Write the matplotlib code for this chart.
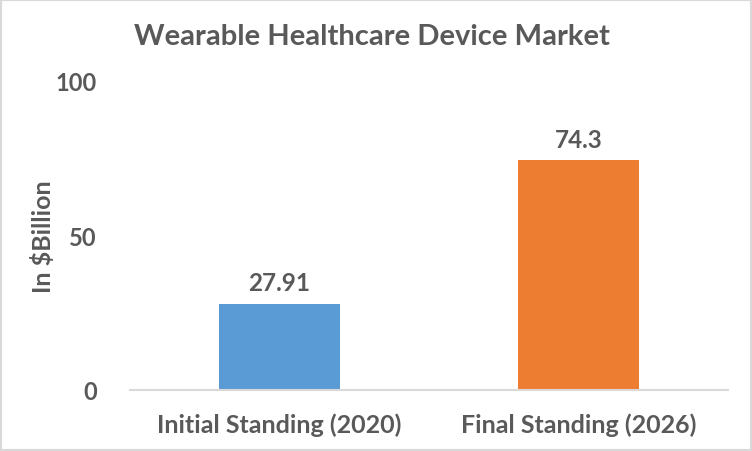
import matplotlib.pyplot as plt
from matplotlib.patches import Rectangle

categories = ['Initial Standing (2020)', 'Final Standing (2026)']
values = [27.91, 74.3]
value_labels = ['27.91', '74.3']
colors = ['#5B9BD5', '#ED7D31']

plt.rcParams['font.family'] = ['Lato', 'DejaVu Sans']
text_color = '#595959'

fig = plt.figure(figsize=(7.52, 4.52), dpi=100)
ax = fig.add_axes([130 / 752, 1 - 391 / 452, 598 / 752, (391 - 82) / 452])

bars = ax.bar(range(len(values)), values, width=0.405, color=colors)
for b, lab in zip(bars, value_labels):
    ax.annotate(lab, (b.get_x() + b.get_width() / 2, b.get_height()),
                xytext=(0, 7), textcoords='offset points',
                ha='center', va='bottom', fontsize=17.5, fontweight='bold',
                color=text_color)

ax.set_xlim(-0.5, 1.5)
ax.set_ylim(0, 100)
ax.set_yticks([0, 50, 100])
ax.set_xticks(range(len(categories)))
ax.set_xticklabels(categories, fontsize=18, fontweight='bold', color=text_color)
ax.tick_params(axis='y', labelsize=17, labelcolor=text_color, length=0, pad=24)
ax.tick_params(axis='x', length=0, pad=16)
for lbl in ax.get_yticklabels():
    lbl.set_fontweight('bold')

for s in ['top', 'right', 'left']:
    ax.spines[s].set_visible(False)
ax.spines['bottom'].set_color('#D9D9D9')
ax.spines['bottom'].set_linewidth(1.5)

ax.set_ylabel('In $Billion', fontsize=18, fontweight='bold', color=text_color, labelpad=0)
fig.text(0.5 - 0.005, 1 - 37 / 452, 'Wearable Healthcare Device Market', ha='center', va='center',
         fontsize=21, fontweight='bold', color=text_color)

fig.patches.append(Rectangle((0, 0), 1, 1, transform=fig.transFigure, fill=False,
                             edgecolor='#D9D9D9', linewidth=3, zorder=10))

fig.savefig('out.png', dpi=100)
